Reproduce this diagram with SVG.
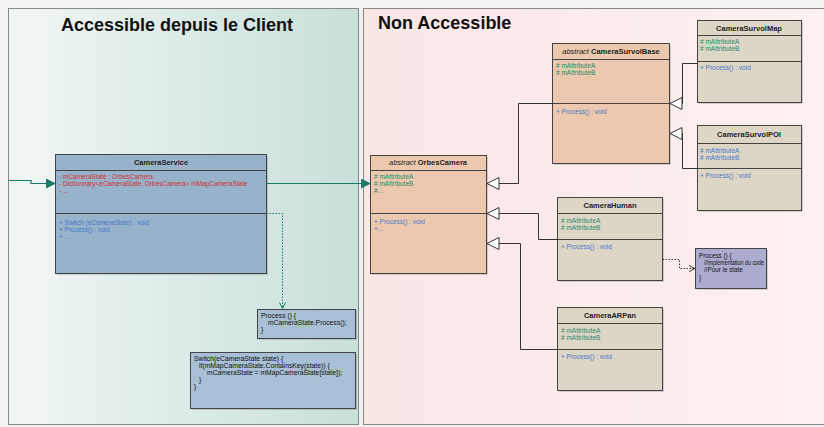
<svg xmlns="http://www.w3.org/2000/svg" width="824" height="427" viewBox="0 0 824 427">
<defs>
<linearGradient id="gl" x1="0" y1="0" x2="1" y2="0"><stop offset="0" stop-color="#f1f6f4"/><stop offset="1" stop-color="#c8e0da"/></linearGradient>
<linearGradient id="gr" x1="0" y1="0" x2="1" y2="0"><stop offset="0" stop-color="#fbe6e6"/><stop offset="1" stop-color="#fdf1f1"/></linearGradient>
<marker id="fa" markerWidth="10" markerHeight="10" refX="9" refY="5" orient="auto" markerUnits="userSpaceOnUse"><path d="M0,0 L10,5 L0,10 Z" fill="#1b7a68"/></marker>
<marker id="tri" markerWidth="14" markerHeight="14" refX="13" refY="7" orient="auto" markerUnits="userSpaceOnUse"><path d="M1,1 L13,7 L1,13 Z" fill="#ffffff" stroke="#333" stroke-width="1"/></marker>
<marker id="oa" markerWidth="8" markerHeight="8" refX="7" refY="4" orient="auto" markerUnits="userSpaceOnUse"><path d="M1,1 L7,4 L1,7" fill="none" stroke="#333" stroke-width="1"/></marker>
<marker id="ga" markerWidth="8" markerHeight="8" refX="7" refY="4" orient="auto" markerUnits="userSpaceOnUse"><path d="M1,1 L7,4 L1,7" fill="none" stroke="#1b7a68" stroke-width="1"/></marker>
</defs>
<style>
text{font-family:"Liberation Sans",Arial,sans-serif}
.title{font-size:18px;font-weight:bold;fill:#111}
.hd{font-size:7.5px;font-weight:bold;fill:#222}
.hi{font-size:7.5px;font-style:italic;fill:#222}
.at{font-size:6.5px;fill:#2a8a6a}
.ab{font-size:6.5px;fill:#4a78c8}
.ar{font-size:6.5px;fill:#d03030}
.me{font-size:6.5px;fill:#4a78c8}
.nt{font-size:6.8px;fill:#111}
.nt2{font-size:6.3px;fill:#111}
.box{stroke:#444;stroke-width:1}
.svc{fill:#97b2cb}
.abs{fill:#ecc9ae}
.cls{fill:#ddd6c6}
.sep{stroke:#444;stroke-width:1}
.shd{fill:#000;opacity:0.15}
.inh{fill:none;stroke:#333;stroke-width:1;marker-end:url(#tri)}
.dep{fill:none;stroke:#333;stroke-width:1;stroke-dasharray:1.5,1.5;marker-end:url(#oa)}
.asc{fill:none;stroke:#1b7a68;stroke-width:1.2;marker-end:url(#fa)}
</style>
<rect width="824" height="427" fill="#f2f2f2"/>
<rect x="8.5" y="8.5" width="350" height="416" fill="url(#gl)" stroke="#888"/>
<rect x="363.5" y="8.5" width="470" height="416" fill="url(#gr)" stroke="#888"/>
<text class="title" x="177" y="31" text-anchor="middle">Accessible depuis le Client</text>
<text class="title" x="378" y="29">Non Accessible</text>

<g id="CameraService">
<rect class="shd" x="57" y="156" width="211" height="119"/>
<rect class="box svc" x="55.5" y="154.5" width="211" height="119"/>
<line class="sep" x1="55.5" y1="170.5" x2="266.5" y2="170.5"/>
<line class="sep" x1="55.5" y1="213.5" x2="266.5" y2="213.5"/>
<text class="hd" x="161" y="165" text-anchor="middle">CameraService</text>
<text class="ar" x="59" y="179">- mCameraState : OrbesCamera</text>
<text class="ar" x="59" y="186">- Dictionnary&lt;eCameraState, OrbesCamera&gt; mMapCameraState</text>
<text class="ar" x="59" y="193">- ...</text>
<text class="me" x="59" y="225">+ Switch (eCameraState) : void</text>
<text class="me" x="59" y="232">+ Process() : void</text>
<text class="me" x="59" y="239">+ ...</text>
</g>

<g id="Note1">
<rect class="shd" x="259" y="311" width="98" height="29"/>
<rect class="box" x="257.5" y="309.5" width="98" height="29" fill="#a8bfd6"/>
<text class="nt" x="261" y="318">Process () {</text>
<text class="nt" x="268" y="325">mCameraState.Process();</text>
<text class="nt" x="261" y="332">}</text>
</g>

<g id="Note2">
<rect class="shd" x="192" y="354" width="165" height="56"/>
<rect class="box" x="190.5" y="352.5" width="165" height="56" fill="#a8bfd6"/>
<text class="nt" x="194" y="361">Switch(eCameraState state) {</text>
<text class="nt" x="199" y="368">if(mMapCameraState.ContainsKey(state)) {</text>
<text class="nt" x="207" y="375">mCameraState = mMapCameraState[state]);</text>
<text class="nt" x="199" y="382">}</text>
<text class="nt" x="194" y="389">}</text>
</g>

<g id="OrbesCamera">
<rect class="shd" x="372" y="157" width="116" height="118"/>
<rect class="box abs" x="370.5" y="155.5" width="116" height="118"/>
<line class="sep" x1="370.5" y1="170.5" x2="486.5" y2="170.5"/>
<line class="sep" x1="370.5" y1="213.5" x2="486.5" y2="213.5"/>
<text x="428" y="165" text-anchor="middle"><tspan class="hi">abstract </tspan><tspan class="hd">OrbesCamera</tspan></text>
<text class="at" x="374" y="179">#  mAttributeA</text>
<text class="at" x="374" y="186">#  mAttributeB</text>
<text class="at" x="374" y="193">#...</text>
<text class="me" x="374" y="224">+ Process() : void</text>
<text class="me" x="374" y="231">+...</text>
</g>

<g id="CameraSurvolBase">
<rect class="shd" x="554" y="45" width="117" height="120"/>
<rect class="box abs" x="552.5" y="43.5" width="117" height="120"/>
<line class="sep" x1="552.5" y1="59.5" x2="669.5" y2="59.5"/>
<line class="sep" x1="552.5" y1="103.5" x2="669.5" y2="103.5"/>
<text x="611" y="54" text-anchor="middle"><tspan class="hi">abstract </tspan><tspan class="hd">CameraSurvolBase</tspan></text>
<text class="at" x="556" y="68"># mAttributeA</text>
<text class="at" x="556" y="75"># mAttributeB</text>
<text class="me" x="556" y="114">+ Process() : void</text>
</g>

<g id="CameraSurvolMap">
<rect class="shd" x="699" y="22" width="104" height="82"/>
<rect class="box cls" x="697.5" y="20.5" width="104" height="82"/>
<line class="sep" x1="697.5" y1="35.5" x2="801.5" y2="35.5"/>
<line class="sep" x1="697.5" y1="61.5" x2="801.5" y2="61.5"/>
<text class="hd" x="749" y="31" text-anchor="middle">CameraSurvolMap</text>
<text class="at" x="700" y="44"># mAttributeA</text>
<text class="at" x="700" y="51"># mAttributeB</text>
<text class="me" x="700" y="70">+ Process() : void</text>
</g>

<g id="CameraSurvolPOI">
<rect class="shd" x="699" y="127" width="104" height="85"/>
<rect class="box cls" x="697.5" y="125.5" width="104" height="85"/>
<line class="sep" x1="697.5" y1="143.5" x2="801.5" y2="143.5"/>
<line class="sep" x1="697.5" y1="168.5" x2="801.5" y2="168.5"/>
<text class="hd" x="749" y="137" text-anchor="middle">CameraSurvolPOI</text>
<text class="ab" x="700" y="153"># mAttributeA</text>
<text class="ab" x="700" y="160"># mAttributeB</text>
<text class="me" x="700" y="178">+ Process() : void</text>
</g>

<g id="CameraHuman">
<rect class="shd" x="559" y="199" width="105" height="83"/>
<rect class="box cls" x="557.5" y="197.5" width="105" height="83"/>
<line class="sep" x1="557.5" y1="213.5" x2="662.5" y2="213.5"/>
<line class="sep" x1="557.5" y1="239.5" x2="662.5" y2="239.5"/>
<text class="hd" x="610" y="208" text-anchor="middle">CameraHuman</text>
<text class="at" x="561" y="223"># mAttributeA</text>
<text class="at" x="561" y="230"># mAttributeB</text>
<text class="me" x="561" y="249">+ Process() : void</text>
</g>

<g id="CameraARPan">
<rect class="shd" x="559" y="309" width="105" height="83"/>
<rect class="box cls" x="557.5" y="307.5" width="105" height="83"/>
<line class="sep" x1="557.5" y1="323.5" x2="662.5" y2="323.5"/>
<line class="sep" x1="557.5" y1="349.5" x2="662.5" y2="349.5"/>
<text class="hd" x="610" y="318" text-anchor="middle">CameraARPan</text>
<text class="at" x="561" y="333"># mAttributeA</text>
<text class="at" x="561" y="340"># mAttributeB</text>
<text class="me" x="561" y="359">+ Process() : void</text>
</g>

<g id="Note3">
<rect class="shd" x="697" y="250" width="71" height="40"/>
<rect class="box" x="695.5" y="248.5" width="71" height="40" fill="#ababd0"/>
<text class="nt2" x="699" y="258">Process () {</text>
<text class="nt2" x="704" y="265" textLength="60" lengthAdjust="spacingAndGlyphs">//Implémentation du code</text>
<text class="nt2" x="704" y="272">//Pour le state</text>
<text class="nt2" x="699" y="280">}</text>
</g>

<g id="connectors">
<path class="asc" d="M9,180.5 H31 V183.5 H55"/>
<path class="asc" d="M266.5,183.5 H370"/>
<path class="dep" style="stroke:#1b7a68;marker-end:url(#ga)" d="M266.5,213.5 H282.5 V308.5"/>
<path class="inh" d="M552.5,103.5 H518.5 V183.5 H487"/>
<path class="inh" d="M557.5,239.5 H538.5 V213.5 H487"/>
<path class="inh" d="M557.5,349.5 H520.5 V243.5 H487"/>
<path class="inh" d="M697.5,63.5 H682.5 V103.5 H670"/>
<path class="inh" d="M697.5,168.5 H682.5 V133.5 H670"/>
<path class="dep" d="M662.5,259.5 H679.5 V268.5 H695"/>
</g>
</svg>
